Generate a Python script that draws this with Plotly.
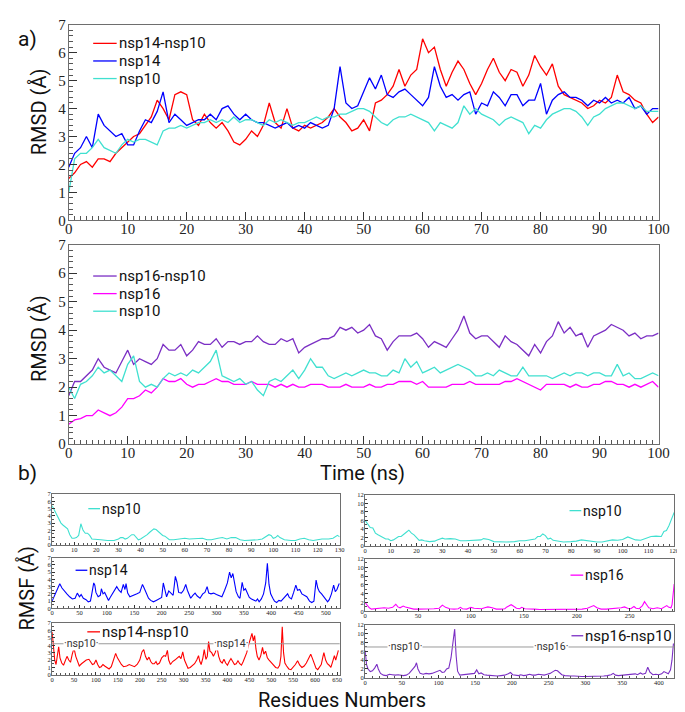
import plotly.graph_objects as go

W, H = 685, 712

# ---------------- RMSD data (Time in ns) ----------------
time_ns = list(range(101))

rmsd_nsp14_nsp10 = [1.5,1.7,2.0,2.1,1.9,2.2,2.2,2.1,2.4,2.6,2.8,3.0,3.1,3.4,3.7,4.3,4.0,3.6,4.5,4.6,
    4.5,3.6,3.4,3.8,3.5,3.3,3.5,3.2,2.8,2.7,2.9,3.2,3.0,3.4,4.2,3.5,3.3,4.0,3.3,3.2,
    3.4,3.3,3.4,3.5,3.7,4.0,3.7,3.5,3.2,3.3,3.6,3.2,4.2,4.3,4.5,4.8,5.4,4.8,5.2,5.4,
    6.5,6.0,6.2,5.4,4.8,5.3,5.7,5.4,4.9,4.5,4.9,5.4,5.8,5.3,5.0,5.4,5.3,4.8,5.2,5.9,
    5.5,5.2,5.6,4.8,4.5,4.4,4.3,4.2,4.0,4.1,4.3,4.2,4.4,5.2,4.6,4.5,4.3,4.2,3.8,3.5,3.7]
rmsd_nsp14 = [1.9,2.4,2.6,3.0,2.6,3.8,3.4,3.2,3.0,3.1,2.7,2.7,3.2,3.6,3.5,3.9,4.6,3.5,3.8,3.6,
    3.4,3.5,3.6,3.6,3.8,3.6,4.0,4.1,3.8,3.6,3.8,3.6,3.5,3.5,3.4,3.3,3.4,3.5,3.3,3.4,
    3.3,3.5,3.4,3.3,3.4,4.0,5.5,4.2,4.0,4.1,4.6,5.1,4.7,5.2,4.5,4.4,4.6,4.7,4.5,4.3,
    4.1,4.4,5.5,4.8,4.4,4.5,4.3,4.5,4.6,3.8,4.2,4.1,4.6,4.4,4.1,4.5,4.5,4.1,4.3,4.3,
    4.9,3.8,4.3,4.5,4.6,4.4,4.4,4.3,4.1,4.3,4.2,4.4,4.2,4.3,4.2,4.4,4.0,4.1,3.8,4.0,4.0]
rmsd_nsp10_a = [1.0,2.2,2.4,2.4,2.6,2.9,2.6,2.5,2.4,2.7,2.9,2.8,2.9,2.9,2.8,2.7,3.2,3.3,3.3,3.4,
    3.3,3.4,3.5,3.5,3.6,3.5,3.6,3.5,3.7,3.5,3.6,3.6,3.5,3.4,3.6,3.5,3.6,3.5,3.4,3.5,
    3.5,3.6,3.7,3.6,3.7,3.7,3.8,3.8,3.9,4.0,4.0,3.9,3.7,3.5,3.4,3.6,3.7,3.7,3.8,3.7,
    3.6,3.5,3.2,3.5,3.4,3.3,3.5,4.1,3.8,4.0,3.8,3.7,3.6,3.4,3.6,3.7,3.6,3.5,3.1,3.4,
    3.3,3.6,3.8,3.9,4.0,4.0,3.9,3.7,3.4,3.7,3.8,4.0,4.1,4.2,4.2,4.1,4.0,4.1,3.9,3.9,3.9]

rmsd_nsp16_nsp10 = [1.7,2.2,2.2,2.4,2.6,3.0,2.7,2.6,2.5,2.9,3.3,2.8,3.0,2.9,2.8,3.0,3.5,3.3,3.3,3.5,
    3.1,3.3,3.6,3.5,3.5,3.7,3.4,3.6,3.6,3.5,3.6,3.6,3.8,3.6,3.5,3.5,3.7,3.6,3.7,3.2,
    3.4,3.5,3.6,3.7,3.7,3.8,4.1,4.0,4.1,3.9,4.0,4.2,3.8,3.7,3.3,3.6,3.8,3.8,3.8,3.9,
    3.7,3.4,3.6,3.5,3.4,3.7,4.0,4.5,3.9,3.7,3.8,3.8,3.6,3.4,3.8,3.6,3.5,3.3,3.1,3.5,
    3.2,3.6,3.8,4.3,3.9,4.1,3.8,3.9,3.4,3.8,3.9,4.0,4.2,4.1,4.0,3.8,3.9,3.7,3.8,3.8,3.9]
rmsd_nsp16 = [0.7,0.85,0.9,1.0,1.0,1.2,1.1,1.0,1.1,1.3,1.6,1.6,1.7,1.9,1.8,2.0,2.3,2.2,2.2,2.3,
    2.1,2.0,2.1,2.1,2.2,2.3,2.2,2.2,2.1,2.1,2.1,2.2,2.1,2.1,2.1,2.0,2.1,2.0,2.1,2.0,
    2.0,2.1,2.1,2.1,2.0,2.0,2.0,2.1,2.0,2.0,2.0,2.1,2.0,2.0,2.1,2.1,2.2,2.2,2.2,2.1,
    2.2,2.0,2.0,2.0,2.0,2.1,2.1,2.1,2.2,2.1,2.1,2.1,2.1,2.1,2.2,2.2,2.3,2.2,2.1,2.0,
    1.9,2.1,2.1,2.1,2.1,2.0,2.1,2.0,2.0,2.1,2.1,2.2,2.2,2.1,2.1,2.0,2.1,2.0,2.1,2.2,2.0]
rmsd_nsp10_b = [2.0,1.6,2.1,2.2,2.4,2.7,2.5,2.6,2.4,2.2,2.8,3.1,2.2,2.0,2.1,2.0,2.3,2.5,2.4,2.5,
    2.4,2.6,2.5,2.7,2.9,3.3,2.4,2.3,2.2,2.3,2.1,2.2,1.9,1.7,2.2,2.3,2.2,2.4,2.6,2.3,
    2.6,3.0,2.7,2.7,2.4,2.3,2.4,2.5,2.4,2.5,2.6,2.5,2.5,2.4,2.4,2.6,2.5,3.0,2.7,2.9,
    2.5,2.6,2.7,2.5,2.6,2.7,2.8,2.7,2.6,2.4,2.4,2.5,2.4,2.6,2.5,2.4,2.4,2.7,2.4,2.4,
    2.4,2.4,2.3,2.4,2.5,2.4,2.5,2.5,2.4,2.5,2.5,2.4,2.4,2.8,2.4,2.5,2.3,2.3,2.4,2.5,2.4]

# ---------------- RMSF data (residue, RMSF) ----------------
rmsf_nsp10_a = [(0,5.4),(2,4.2),(4,3.0),(5,2.7),(6,2.5),(7,2.2),(8,1.4),(9,0.9),(10,0.9),(11,1.0),
    (12,1.3),(13,2.9),(14,2.0),(15,1.6),(16,1.6),(17,1.3),(18,0.8),(20,0.7),(22,0.7),(25,0.6),
    (28,0.6),(30,0.8),(31,1.0),(32,1.0),(33,0.8),(34,0.9),(35,1.2),(36,1.4),(37,1.4),(38,1.0),
    (39,0.7),(40,0.8),(41,1.0),(42,1.1),(43,1.4),(44,1.7),(45,2.0),(46,2.2),(47,2.1),(48,1.8),
    (49,1.5),(50,1.3),(51,1.2),(52,0.9),(53,0.7),(55,0.7),(58,0.8),(60,0.9),(62,0.8),(65,0.9),
    (68,0.9),(70,0.7),(72,0.7),(75,0.9),(77,1.0),(79,0.8),(81,1.0),(83,1.0),(85,0.7),(87,0.6),
    (90,0.6),(93,0.7),(95,0.8),(97,1.2),(98,1.4),(99,1.3),(100,0.9),(101,1.0),(102,1.3),(103,1.0),
    (105,0.7),(108,0.6),(110,0.6),(112,0.8),(114,0.9),(116,0.7),(118,0.6),(120,0.7),(122,0.8),(125,0.8),
    (127,0.9),(129,1.3),(130,1.1)]
rmsf_nsp14 = [(0,1.0),(5,1.8),(10,2.8),(14,3.4),(18,2.8),(22,2.4),(27,2.0),(32,1.6),(37,1.3),(42,1.4),
    (46,2.1),(50,1.6),(53,1.9),(57,1.4),(62,1.2),(66,0.9),(70,1.0),(72,1.8),(74,2.8),(76,3.5),
    (78,3.2),(80,2.2),(84,1.6),(88,1.8),(90,2.7),(93,2.0),(96,2.2),(100,1.5),(103,1.1),(106,1.5),
    (110,2.0),(114,2.4),(118,3.0),(122,2.5),(126,2.2),(130,3.3),(133,2.6),(135,3.4),(138,2.1),(142,1.6),
    (146,1.7),(150,1.9),(155,2.0),(160,2.2),(165,3.3),(168,2.8),(172,2.0),(176,1.4),(180,1.1),(185,0.9),
    (190,1.1),(195,1.3),(200,1.5),(203,3.5),(206,2.3),(209,1.6),(213,2.4),(217,2.1),(221,1.8),(225,4.4),
    (228,3.6),(231,2.2),(236,2.1),(240,2.5),(244,3.3),(247,2.5),(250,1.8),(253,1.4),(257,1.8),(261,2.1),
    (265,1.7),(270,1.4),(275,2.0),(279,2.2),(283,3.0),(286,2.1),(290,2.0),(295,2.1),(300,1.9),(305,1.8),
    (310,1.6),(315,2.5),(320,3.5),(324,5.0),(327,4.2),(330,4.8),(333,3.5),(336,2.3),(340,1.6),(343,1.4),
    (347,3.6),(350,2.5),(353,2.7),(357,2.0),(360,1.5),(364,1.3),(368,1.2),(372,1.0),(375,1.3),(378,0.9),
    (382,1.3),(386,2.0),(390,3.5),(393,6.2),(396,3.3),(399,2.0),(403,1.4),(406,1.0),(410,0.8),(414,1.1),
    (418,1.0),(422,1.3),(426,1.6),(430,2.0),(433,1.5),(437,1.3),(441,2.2),(445,3.2),(448,2.5),(452,2.6),
    (456,2.0),(460,1.8),(465,1.6),(470,1.0),(474,0.8),(478,1.0),(482,3.9),(485,2.8),(488,2.3),(492,2.0),
    (496,1.5),(500,1.2),(503,0.9),(506,1.2),(510,2.0),(514,3.2),(517,2.3),(520,2.6),(524,3.4),(525,3.3)]
rmsf_nsp14_nsp10 = [(0,5.8),(3,3.5),(6,2.0),(9,1.4),(12,2.5),(15,3.8),(18,2.3),(22,1.6),(26,1.3),(30,1.8),
    (34,2.5),(38,2.0),(42,1.7),(46,2.8),(50,3.6),(54,2.5),(58,1.8),(62,1.2),(67,1.5),(72,1.7),
    (78,2.0),(84,2.1),(88,1.8),(92,1.4),(96,1.5),(100,2.0),(104,1.4),(108,1.0),(112,1.1),(116,1.4),
    (120,1.2),(125,1.0),(130,0.8),(135,1.1),(140,2.0),(145,2.9),(149,2.3),(153,1.8),(158,1.4),(163,1.1),
    (170,1.2),(176,1.4),(182,1.2),(188,1.1),(194,1.4),(200,2.0),(205,3.1),(209,3.4),(213,2.5),(217,2.0),
    (221,2.4),(225,1.8),(229,1.5),(233,1.5),(237,1.8),(240,1.4),(245,1.6),(250,2.3),(255,2.6),(259,2.5),
    (263,3.3),(266,2.0),(270,1.4),(275,1.8),(280,2.0),(285,2.2),(290,2.5),(294,2.2),(298,3.1),(302,2.0),
    (306,1.3),(310,0.9),(315,1.0),(320,1.3),(325,1.5),(330,2.0),(334,2.6),(337,1.8),(340,1.4),(344,2.3),
    (347,3.4),(351,2.1),(354,2.5),(357,4.5),(360,3.2),(364,3.0),(368,2.5),(372,3.0),(376,3.8),(380,2.5),
    (384,1.8),(388,1.6),(392,2.1),(396,1.6),(400,1.3),(404,1.8),(408,2.2),(412,1.8),(416,1.4),(420,1.5),
    (424,1.9),(428,1.5),(432,1.3),(436,1.8),(440,2.3),(444,3.0),(448,4.0),(452,4.8),(456,5.6),(459,4.6),
    (462,5.3),(465,3.5),(468,2.5),(472,2.0),(476,2.6),(480,3.7),(483,2.8),(487,3.2),(491,2.3),(495,2.0),
    (500,1.7),(505,1.3),(510,1.0),(515,0.9),(519,1.3),(522,2.5),(525,6.5),(528,3.0),(531,1.6),(535,1.2),
    (540,0.8),(545,0.7),(550,1.0),(555,1.4),(560,1.9),(565,1.3),(570,1.0),(575,1.2),(580,1.6),(585,2.2),
    (590,2.8),(594,2.2),(598,1.6),(602,0.9),(606,0.7),(610,1.0),(614,1.4),(618,2.5),(620,3.0),(624,2.0),
    (628,1.5),(632,1.3),(636,1.0),(640,1.8),(644,2.6),(647,2.0),(650,2.8),(653,3.3)]
rmsf_nsp10_b = [(0,6.0),(1,5.0),(2,4.3),(3,4.2),(4,3.0),(5,2.6),(6,2.3),(7,2.0),(8,1.6),(9,1.6),
    (10,1.2),(11,1.4),(12,1.8),(13,2.2),(14,2.2),(15,2.6),(16,3.2),(17,3.7),(18,3.0),(19,2.6),
    (20,2.0),(21,1.3),(22,1.4),(23,1.2),(25,1.0),(27,1.1),(28,1.4),(30,1.8),(31,1.6),(33,1.7),
    (35,1.6),(37,1.2),(39,1.2),(41,1.3),(43,1.3),(45,1.4),(46,1.7),(48,1.5),(50,1.0),(52,0.9),
    (55,0.9),(58,1.0),(60,1.2),(62,1.2),(64,1.4),(66,1.6),(67,2.2),(68,2.2),(69,2.8),(70,2.4),
    (71,1.6),(72,1.8),(73,1.3),(75,1.1),(77,0.9),(80,1.0),(82,1.1),(84,1.4),(86,1.2),(88,1.1),
    (90,0.9),(92,0.9),(94,1.1),(96,1.4),(98,1.3),(100,1.5),(102,2.1),(103,1.9),(105,1.4),(107,1.3),
    (109,1.7),(110,1.9),(111,2.2),(113,2.3),(115,2.2),(116,3.4),(117,3.6),(118,4.8),(119,6.5),(120,7.9)]
rmsf_nsp16 = [(0,2.0),(2,1.3),(4,0.8),(6,0.5),(10,0.6),(14,0.7),(18,0.8),(22,0.7),(26,0.9),(29,1.6),
    (31,1.0),(33,0.8),(36,1.2),(38,1.0),(42,0.7),(46,0.5),(50,0.5),(55,0.5),(60,0.6),(65,0.6),
    (70,0.7),(73,1.4),(76,0.9),(80,0.6),(84,0.5),(88,0.6),(90,0.9),(92,0.6),(96,0.5),(100,0.9),
    (103,0.7),(107,0.6),(110,0.6),(113,0.8),(116,1.0),(120,0.8),(124,0.5),(128,0.5),(132,0.6),(134,1.0),
    (136,1.3),(138,1.5),(140,1.2),(143,0.7),(146,0.6),(148,0.9),(151,0.6),(155,0.6),(160,0.5),(165,0.4),
    (170,0.4),(175,0.4),(180,0.4),(185,0.5),(190,0.4),(195,0.4),(200,0.5),(205,0.5),(210,0.7),(214,1.0),
    (216,1.3),(219,0.8),(223,0.5),(228,0.5),(233,0.6),(238,0.6),(242,0.8),(245,1.0),(248,0.7),(251,0.6),
    (254,1.1),(256,0.7),(259,0.6),(262,1.3),(264,2.2),(266,1.5),(268,0.8),(272,0.6),(276,0.8),(280,0.6),
    (283,1.0),(285,1.3),(287,0.9),(289,0.8),(290,1.5),(291,3.5),(292,6.2)]
rmsf_nsp16_nsp10 = [(0,6.2),(2,3.0),(4,2.0),(7,1.4),(10,1.6),(13,2.2),(16,3.1),(18,2.0),(21,1.0),(25,0.6),
    (29,0.5),(33,0.8),(37,0.7),(41,0.6),(45,0.7),(48,0.6),(52,0.5),(56,0.6),(60,1.0),(64,1.8),
    (68,2.6),(70,3.4),(72,2.0),(75,1.0),(79,0.8),(83,1.0),(87,0.9),(91,1.0),(95,1.2),(99,1.5),
    (102,1.7),(105,1.2),(108,1.3),(111,2.0),(114,2.2),(117,4.5),(120,8.5),(122,11.1),(124,5.0),(126,1.5),
    (129,0.6),(133,0.7),(137,0.8),(141,0.8),(145,0.9),(149,1.0),(152,1.8),(155,0.9),(158,1.1),(162,0.7),
    (166,0.6),(170,0.5),(175,0.4),(180,0.4),(185,0.5),(190,0.6),(195,0.9),(198,1.2),(201,0.7),(205,0.6),
    (209,0.5),(212,0.7),(216,0.5),(220,0.6),(224,0.8),(228,0.6),(232,0.6),(236,0.8),(240,0.7),(244,0.6),
    (248,0.8),(252,1.0),(256,1.4),(259,1.7),(262,1.6),(265,1.1),(268,0.7),(272,0.5),(276,0.4),(280,0.4),
    (285,0.4),(290,0.3),(295,0.3),(300,0.3),(305,0.3),(310,0.4),(315,0.4),(320,0.3),(325,0.4),(330,0.5),
    (335,0.7),(338,1.0),(341,0.6),(345,0.5),(350,0.6),(355,0.6),(360,0.7),(365,0.8),(368,0.9),(371,0.7),
    (375,1.1),(378,0.8),(382,1.0),(385,2.4),(388,1.3),(392,0.7),(396,0.8),(400,0.7),(404,0.9),(407,1.4),
    (410,1.1),(413,0.9),(416,1.8),(418,4.0),(420,7.8)]

C_RED, C_BLUE, C_CYAN = "#ff0000", "#0000ff", "#40e0d0"
C_PURPLE, C_MAG = "#7b2fc4", "#ff00ff"

fig = go.Figure()

def X(px):
    return px / W

def Y(py):
    return 1 - py / H

def add_line(x, y, color, name, axis_idx, width=1.3):
    sfx = "" if axis_idx == 1 else str(axis_idx)
    fig.add_trace(go.Scatter(x=x, y=y, mode="lines", name=name, showlegend=False,
                             line=dict(color=color, width=width),
                             xaxis="x" + sfx, yaxis="y" + sfx))

def add_pairs(pairs, color, name, axis_idx):
    add_line([p[0] for p in pairs], [p[1] for p in pairs], color, name, axis_idx, width=1.1)

# panel a (top)
add_line(time_ns, rmsd_nsp14_nsp10, C_RED, "nsp14-nsp10", 1)
add_line(time_ns, rmsd_nsp14, C_BLUE, "nsp14", 1)
add_line(time_ns, rmsd_nsp10_a, C_CYAN, "nsp10", 1)
# panel a (bottom)
add_line(time_ns, rmsd_nsp16_nsp10, C_PURPLE, "nsp16-nsp10", 2)
add_line(time_ns, rmsd_nsp16, C_MAG, "nsp16", 2)
add_line(time_ns, rmsd_nsp10_b, C_CYAN, "nsp10", 2)
# panel b
add_pairs(rmsf_nsp10_a, C_CYAN, "nsp10", 3)
add_pairs(rmsf_nsp14, C_BLUE, "nsp14", 4)
add_pairs(rmsf_nsp14_nsp10, C_RED, "nsp14-nsp10", 5)
add_pairs(rmsf_nsp10_b, C_CYAN, "nsp10", 6)
add_pairs(rmsf_nsp16, C_MAG, "nsp16", 7)
add_pairs(rmsf_nsp16_nsp10, C_PURPLE, "nsp16-nsp10", 8)

SERIF = "Liberation Serif, Times New Roman, serif"
SANS = "Roboto, Arial, sans-serif"

def axis(domain, rng, dtick, minor, fsize, tlen, anchor, standoff=0):
    return dict(domain=domain, range=rng, dtick=dtick, tick0=0, ticks="inside",
                ticklen=tlen, tickwidth=1, tickcolor="#333",
                minor=dict(ticks="inside", dtick=minor, ticklen=max(2, tlen / 2),
                           tickcolor="#555", tickwidth=1),
                showline=True, mirror=True, linecolor="#6e6e6e", linewidth=1,
                showgrid=False, zeroline=False, anchor=anchor,
                ticklabelstandoff=standoff,
                tickfont=dict(family=SERIF, size=fsize, color="#222"))

# pixel geometry of the panels
main_x = [X(58), X(661)]
left_x = [X(41), X(335)]
right_x = [X(361), X(677)]

layout_axes = {
    "xaxis": axis(main_x, [0, 100], 10, 1, 15, 8, "y", -5),
    "yaxis": axis([Y(209), Y(9)], [0, 7], 1, 0.2, 15, 8, "x", -1),
    "xaxis2": axis(main_x, [0, 100], 10, 1, 15, 8, "y2", -5),
    "yaxis2": axis([Y(438), Y(234)], [0, 7], 1, 0.2, 15, 8, "x2", -1),
    "xaxis3": axis(left_x, [0, 130], 10, 2, 6.5, 3, "y3", -2),
    "yaxis3": axis([Y(541), Y(489)], [0, 7], 1, 0.5, 6.5, 3, "x3", -1),
    "xaxis4": axis(left_x, [0, 525], 50, 10, 6.5, 3, "y4", -2),
    "yaxis4": axis([Y(606), Y(554)], [0, 7], 1, 0.5, 6.5, 3, "x4", -1),
    "xaxis5": axis(left_x, [0, 656], 50, 10, 6.5, 3, "y5", -2),
    "yaxis5": axis([Y(674), Y(621)], [0, 7], 1, 0.5, 6.5, 3, "x5", -1),
    "xaxis6": axis(right_x, [0, 120], 10, 2, 6.5, 3, "y6", -2),
    "yaxis6": axis([Y(542), Y(490)], [0, 12], 2, 1, 6.5, 3, "x6", -1),
    "xaxis7": axis(right_x, [0, 292], 50, 10, 6.5, 3, "y7", -2),
    "yaxis7": axis([Y(609), Y(555)], [0, 12], 2, 1, 6.5, 3, "x7", -1),
    "xaxis8": axis(right_x, [0, 421], 50, 10, 6.5, 3, "y8", -2),
    "yaxis8": axis([Y(677), Y(623)], [0, 12], 2, 1, 6.5, 3, "x8", -1),
}

shapes = []
annotations = []

def legend_entry(x0, x1, py, color, text, size):
    shapes.append(dict(type="line", xref="paper", yref="paper", x0=X(x0), x1=X(x1),
                       y0=Y(py), y1=Y(py), line=dict(color=color, width=1.3)))
    annotations.append(dict(text=text, xref="paper", yref="paper", x=X(x1 + 1), y=Y(py),
                            xanchor="left", yanchor="middle", showarrow=False, borderpad=0,
                            font=dict(family=SANS, size=size, color="#111")))

legend_entry(83, 107, 28, C_RED, "nsp14-nsp10", 15)
legend_entry(83, 107, 46, C_BLUE, "nsp14", 15)
legend_entry(83, 107, 64, C_CYAN, "nsp10", 15)
legend_entry(83, 107, 266, C_PURPLE, "nsp16-nsp10", 15)
legend_entry(83, 107, 284, C_MAG, "nsp16", 15)
legend_entry(83, 107, 302, C_CYAN, "nsp10", 15)
legend_entry(78, 90, 504, C_CYAN, "nsp10", 14)
legend_entry(65, 77, 567, C_BLUE, "nsp14", 14)
legend_entry(77, 90, 630, C_RED, "nsp14-nsp10", 15)
legend_entry(570, 582, 506, C_CYAN, "nsp10", 14)
legend_entry(571, 584, 572, C_MAG, "nsp16", 14)
legend_entry(572, 584, 634, C_PURPLE, "nsp16-nsp10", 15)

# domain separators in complex RMSF panels
for xa, ya, yv in (("x5", "y5", 4.2), ("x8", "y8", 7.0)):
    shapes.append(dict(type="line", xref=xa + " domain", yref=ya, x0=0, x1=1, y0=yv, y1=yv,
                       line=dict(color="#9a9a9a", width=1)))
for xa, ya, xv, yv, t in (("x5", "y5", 65, 4.2, "·nsp10·"), ("x5", "y5", 408, 4.2, "·nsp14·"),
                          ("x8", "y8", 55, 7.0, "·nsp10·"), ("x8", "y8", 253, 7.0, "·nsp16·")):
    annotations.append(dict(text=t, xref=xa, yref=ya, x=xv, y=yv, showarrow=False,
                            bgcolor="white", borderpad=0,
                            font=dict(family=SANS, size=10.5, color="#333")))

def label(text, px, py, size, angle=0):
    annotations.append(dict(text=text, xref="paper", yref="paper", x=X(px), y=Y(py),
                            xanchor="center", yanchor="middle", showarrow=False, textangle=angle,
                            font=dict(family=SANS, size=size, color="#111")))

label("a)", 16, 24, 21)
label("b)", 16, 468, 21)
label("RMSD (Å)", 27, 98, 20, -90)
label("RMSD (Å)", 27, 330, 20, -90)
label("Time (ns)", 358, 468, 20)
label("RMSF (Å)", 15, 585, 20, -90)
label("Residues Numbers", 337, 700, 20)

fig.update_layout(width=W, height=H, margin=dict(l=0, r=0, t=0, b=0),
                  paper_bgcolor="white", plot_bgcolor="white", showlegend=False,
                  shapes=shapes, annotations=annotations, **layout_axes)

fig.write_html("out.html")
